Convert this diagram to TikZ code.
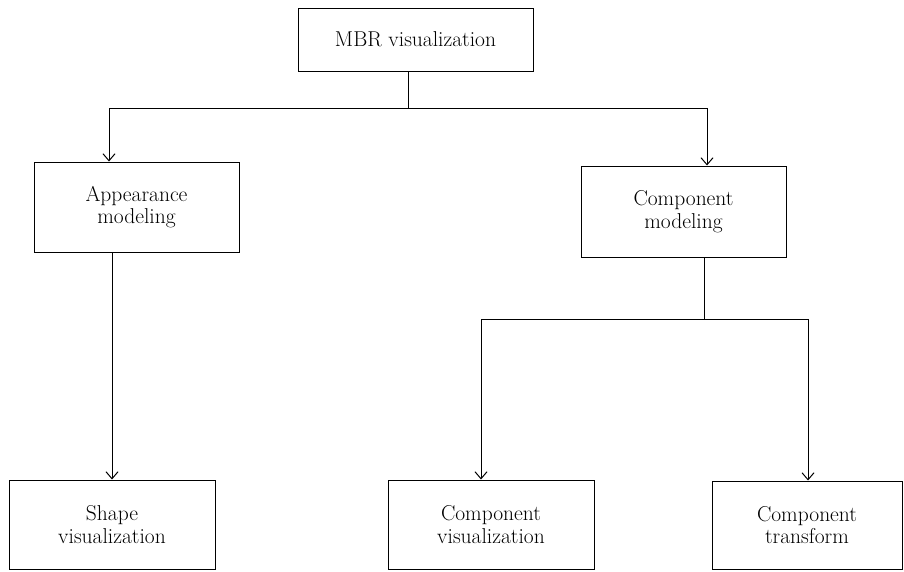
\documentclass[tikz,border=0pt]{standalone}
\usetikzlibrary{arrows.meta}

\tikzset{ every node/.style={draw, line width=1pt, inner sep=0pt, align=center,
                             font=\fontsize{21.5}{22.5}\selectfont},
          link/.style={line width=1pt},
          arrowlink/.style={link, -{Straight Barb[length=7pt,width=12pt]}} }

\begin{document}
\begin{tikzpicture}[x=1pt,y=-1pt]
        \useasboundingbox (0,0) rectangle (904,571);

        \node[minimum width=235pt, minimum height=63pt] (mbr) at (415.5,39.5) {MBR visualization};
        \node[minimum width=205pt, minimum height=90pt] (app) at (136.5,207) {Appearance\\modeling};
        \node[minimum width=205pt, minimum height=91pt] (comp) at (683.5,211.5) {Component\\modeling};
        \node[minimum width=206pt, minimum height=89pt] (shape) at (112,524.5) {Shape\\visualization};
        \node[minimum width=206pt, minimum height=89pt] (cvis) at (491,524.5) {Component\\visualization};
        \node[minimum width=190pt, minimum height=88pt] (ctrans) at (807,525) {Component\\transform};

        \coordinate (t) at (408,108);
        \coordinate (tl) at (109,108);
        \coordinate (tr) at (707,108);
        \coordinate (b) at (704,319);
        \coordinate (bl) at (481,319);
        \coordinate (br) at (808,319);

        \draw[link] (t |- mbr.south) -- (t);
        \draw[link] (tl) -- (tr);
        \draw[arrowlink] (tl) -- (tl |- app.north);
        \draw[arrowlink] (tr) -- (tr |- comp.north);
        \draw[arrowlink] (shape.north |- app.south) -- (shape.north);
        \draw[link] (b |- comp.south) -- (b);
        \draw[link] (bl) -- (br);
        \draw[arrowlink] (bl) -- (bl |- cvis.north);
        \draw[arrowlink] (br) -- (br |- ctrans.north);
    \end{tikzpicture}
\end{document}
